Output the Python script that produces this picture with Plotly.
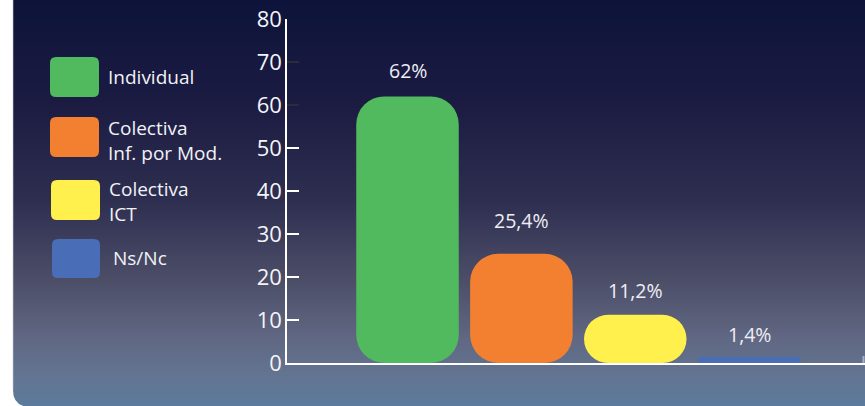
import plotly.graph_objects as go

# ---- data ----
categories = ["Individual", "Colectiva<br>Inf. por Mod.", "Colectiva<br>ICT", "Ns/Nc"]
values = [62, 25.4, 11.2, 1.4]
value_labels = ["62%", "25,4%", "11,2%", "1,4%"]
y_ticks = [0, 10, 20, 30, 40, 50, 60, 70, 80]

colors = ["#51BA5F", "#F38031", "#FFF04E", "#4A6DB7"]
radii = [28, 28, 24, 3]
label_shift = [21, 29, 20, 18]

W, H = 865, 406
ML, MR, MT, MB = 287, 0, 19, 43
PW, PH = W - ML - MR, H - MT - MB


def px(x):
    return (x - ML) / PW


def py(y):
    return (H - MB - y) / PH


fig = go.Figure()

for i, v in enumerate(values):
    fig.add_trace(go.Bar(x=[i], y=[v], base=[0], width=0.9,
                         marker=dict(color=colors[i], line=dict(width=0), cornerradius=radii[i]),
                         showlegend=False, hoverinfo="skip"))

# data labels
annotations = []
for i, (v, t) in enumerate(zip(values, value_labels)):
    annotations.append(dict(x=i, y=v, xref="x", yref="y", text=t, showarrow=False,
                            yanchor="bottom", yshift=label_shift[i] - 11,
                            font=dict(family="Open Sans", size=19.5, color="#eeeef4")))

# ---- background gradient (panel) ----
stops = [(0, (13, 19, 58)), (100, (27, 27, 66)), (200, (46, 46, 80)), (280, (76, 78, 104)),
         (340, (97, 104, 131)), (380, (98, 118, 147)), (406, (92, 122, 155))]


def color_at(y):
    for (y0, c0), (y1, c1) in zip(stops[:-1], stops[1:]):
        if y0 <= y <= y1:
            t = (y - y0) / (y1 - y0)
            return "rgb(%d,%d,%d)" % tuple(round(a + (b - a) * t) for a, b in zip(c0, c1))
    return "rgb(%d,%d,%d)" % stops[-1][1]


shapes = []
for yy in range(0, H, 2):
    shapes.append(dict(type="rect", xref="paper", yref="paper", layer="below",
                       x0=px(13), x1=1.0, y0=py(yy + 2.3), y1=py(yy),
                       fillcolor=color_at(yy + 1), line=dict(width=0)))
# rounded bottom-left corner of panel
shapes.append(dict(type="path", xref="paper", yref="paper", layer="below",
                   path="M %f %f L %f %f L %f %f Q %f %f %f %f Z" % (
                       px(12), py(390), px(12), py(407), px(29), py(407),
                       px(13), py(406), px(13), py(390)),
                   fillcolor="white", line=dict(width=0)))
shapes.append(dict(type="line", xref="paper", yref="paper", layer="below",
                   x0=px(13), x1=px(13), y0=py(0), y1=py(390),
                   line=dict(color="rgba(200,200,210,0.6)", width=1)))
# small tick at right end of x axis
shapes.append(dict(type="line", xref="paper", yref="paper", x0=px(863.5), x1=px(863.5),
                   y0=py(363), y1=py(356), line=dict(color="#aab0c0", width=2)))


# ---- legend (custom rounded swatches) ----
def rrect(x0, y0, x1, y1, r):
    X0, X1, Y0, Y1 = px(x0), px(x1), py(y0), py(y1)
    rx, ry = r / PW, r / PH
    return ("M %f %f L %f %f Q %f %f %f %f L %f %f Q %f %f %f %f "
            "L %f %f Q %f %f %f %f L %f %f Q %f %f %f %f Z") % (
        X0 + rx, Y0, X1 - rx, Y0, X1, Y0, X1, Y0 - ry,
        X1, Y1 + ry, X1, Y1, X1 - rx, Y1,
        X0 + rx, Y1, X0, Y1, X0, Y1 + ry,
        X0, Y0 - ry, X0, Y0, X0 + rx, Y0)


swatch_boxes = [(50, 57, 99, 97), (50, 117, 99, 157), (51, 180, 100, 220), (52, 239, 100, 278)]
label_pos = [(106, 77), (106, 140), (107, 201), (111, 258)]
for i, cat in enumerate(categories):
    x0, y0, x1, y1 = swatch_boxes[i]
    shapes.append(dict(type="path", xref="paper", yref="paper", path=rrect(x0, y0, x1, y1, 6),
                       fillcolor=colors[i], line=dict(width=0)))
    lx, ly = label_pos[i]
    annotations.append(dict(x=px(lx), y=py(ly), xref="paper", yref="paper", text=cat,
                            showarrow=False, xanchor="left", yanchor="middle", align="left",
                            font=dict(family="Open Sans", size=19, color="#f2f2f6")))

axis_common = dict(range=[0, 80], showgrid=False, zeroline=False, fixedrange=True)
fig.update_layout(
    width=W, height=H,
    margin=dict(l=ML, r=MR, t=MT, b=MB, pad=0),
    paper_bgcolor="white",
    plot_bgcolor="rgba(0,0,0,0)",
    barmode="overlay",
    showlegend=False,
    shapes=shapes,
    annotations=annotations,
    xaxis=dict(range=[-1.058, 4.017], showline=True, linecolor="white", linewidth=2,
               showticklabels=False, ticks="", showgrid=False, zeroline=False, fixedrange=True),
    yaxis=dict(tickvals=y_ticks, ticktext=[str(t) for t in y_ticks],
               showline=True, linecolor="white", linewidth=1.5, ticks="",
               ticklabeloverflow="allow", ticklabelstandoff=-1,
               tickfont=dict(family="Open Sans", size=22, color="#f4f4f8"), **axis_common),
    yaxis2=dict(overlaying="y", side="left", anchor="x",
                tickvals=[t for t in y_ticks if t <= 50], ticks="inside", ticklen=12, tickwidth=1.5,
                tickcolor="white", showticklabels=False, showline=False, **axis_common),
    yaxis3=dict(overlaying="y", side="left", anchor="x",
                tickvals=[t for t in y_ticks if t > 50], ticks="inside", ticklen=12, tickwidth=1.5,
                tickcolor="#2c2c34", showticklabels=False, showline=False, **axis_common),
)
# invisible traces so that the tick-only overlay axes render
for ax in ("y2", "y3"):
    fig.add_trace(go.Scatter(x=[0], y=[0], yaxis=ax, mode="markers",
                             marker=dict(opacity=0), showlegend=False, hoverinfo="skip"))

fig.write_html("out.html", config={"displayModeBar": False},
               post_script="document.body.style.margin='0';document.body.style.overflow='hidden';")
